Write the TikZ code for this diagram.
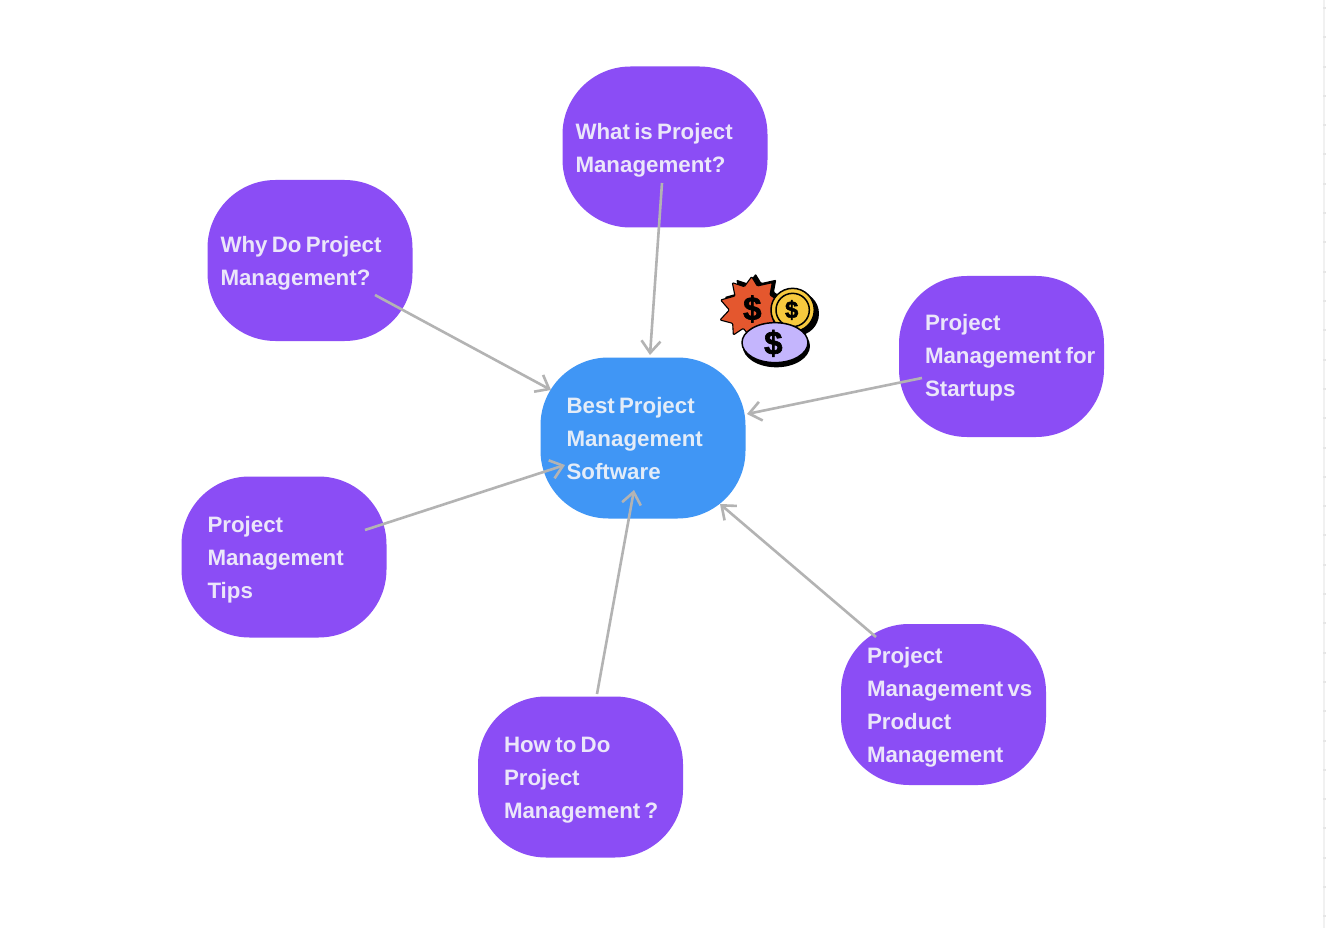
\documentclass[tikz,border=0pt]{standalone}
\usepackage{fontspec}
\setmainfont{Liberation Sans Bold}
\newfontfamily\moneyfont[FakeBold=2]{Liberation Sans Bold}
\usetikzlibrary{arrows.meta,calc}
\definecolor{purp}{HTML}{8B4DF5}
\definecolor{blu}{HTML}{4096F5}
\definecolor{ltxt}{HTML}{EBE6FA}
\definecolor{btxt}{HTML}{E3ECF8}
\definecolor{arrowgray}{HTML}{B3B3B3}
\definecolor{starred}{HTML}{E4572E}
\definecolor{coingold}{HTML}{F7C93E}
\definecolor{lav}{HTML}{C4B5FD}
\definecolor{rulegray}{HTML}{F1F1F1}
\definecolor{tickgray}{HTML}{E6E6E6}
\newcommand{\firstline}{\rule{0pt}{27.1pt}}
\tikzset{
 topicbox/.style={fill=purp,rounded corners=68pt,minimum width=205pt,minimum height=161pt,
   text=ltxt,font=\fontsize{22.3}{33}\selectfont,align=left,inner sep=0pt,outer sep=0pt,text width=205pt},
 pad/.style={execute at begin node={\leftskip=#1\relax\rightskip=0pt plus 1fil\relax\spaceskip=4.3pt\relax}},
 hubbox/.style={topicbox,fill=blu,text=btxt},
 link/.style={draw=arrowgray,line width=2.6pt,-{Straight Barb[length=12pt,width=19pt,line width=2.6pt]}},
 inkline/.style={draw=black,line width=1.5pt,line join=round},
 dollar/.style={inner sep=0pt,text=black},
}
\begin{document}
\begin{tikzpicture}[x=1pt,y=-1pt]
\useasboundingbox (0,0) rectangle (1326,928);
\fill[white] (0,0) rectangle (1326,928);
% faint page edge at right
\draw[rulegray,line width=1.5pt] (1324,0) -- (1324,928);
\foreach \yy in {7,36.3,...,928} \fill[tickgray] (1323,\yy) rectangle (1325.5,\yy+2);

\node[hubbox,pad=26pt] (hub) at (643,438) {\firstline Best Project\\Management\\\strut Software};
\node[topicbox,pad=13pt] (what) at (665,147) {\firstline What is Project\\\strut Management?};
\node[topicbox,pad=13pt] (why) at (310,260.5) {\firstline Why Do Project\\\strut Management?};
\node[topicbox,pad=26pt] (start) at (1001.5,356.5) {\strut Project\\Management for\\\strut Startups};
\node[topicbox,pad=26pt] (tips) at (284,557) {\firstline Project\\Management\\\strut Tips};
\node[topicbox,pad=26pt] (vs) at (943.5,704.5) {\firstline Project\\Management vs\\Product\\\strut Management};
\node[topicbox,pad=26pt] (how) at (580.5,777) {\firstline How to Do\\Project\\\strut Management ?};

% connector ends
\coordinate (whatS) at (662,183);  \coordinate (whatE) at (650,355);
\coordinate (whyS)  at (375,295);  \coordinate (whyE)  at (551,390);
\coordinate (startS) at (922,378); \coordinate (startE) at (747,414);
\coordinate (tipsS) at (365,530);  \coordinate (tipsE) at (565,465);
\coordinate (vsS)   at (876,637);  \coordinate (vsE)   at (720,504);
\coordinate (howS)  at (597,694);  \coordinate (howE)  at (634,490);
\draw[link] (whatS) -- (whatE);
\draw[link] (whyS) -- (whyE);
\draw[link] (startS) -- (startE);
\draw[link] (tipsS) -- (tipsE);
\draw[link] (vsS) -- (vsE);
\draw[link] (howS) -- (howE);

% money icon
\begin{scope}[shift={(700,260)},x=0.3333pt,y=-0.3333pt]
 \def\starpath{(155,50)--(172,78)--(217,68)--(210,105)--(240,125)--(215,160)--(225,200)--(180,205)--(150,230)--(130,205)--(100,225)--(98,190)--(60,180)--(88,150)--(62,120)--(105,108)--(97,68)--(133,80)--cycle}
 \fill[black,shift={(4pt,3pt)},rounded corners=1pt] \starpath;
 \draw[inkline,line width=1.1pt,fill=starred,rounded corners=1pt] \starpath;
 \fill[black] (291,161) circle [radius=66];
 \draw[inkline,fill=coingold] (278,150) circle [radius=65];
 \draw[inkline,fill=coingold] (278,150) circle [radius=50];
 \fill[black] (229,258) ellipse [x radius=101,y radius=64];
 \draw[inkline,fill=lav] (225,248) ellipse [x radius=99,y radius=60];
 \node[dollar,font=\fontsize{33}{33}\moneyfont] (d1) at (157,147) {\$};
 \node[dollar,font=\fontsize{24}{24}\moneyfont] (d2) at (275,150) {\$};
 \node[dollar,font=\fontsize{33}{33}\moneyfont] (d3) at (220,250) {\$};
\end{scope}
\end{tikzpicture}
\end{document}
